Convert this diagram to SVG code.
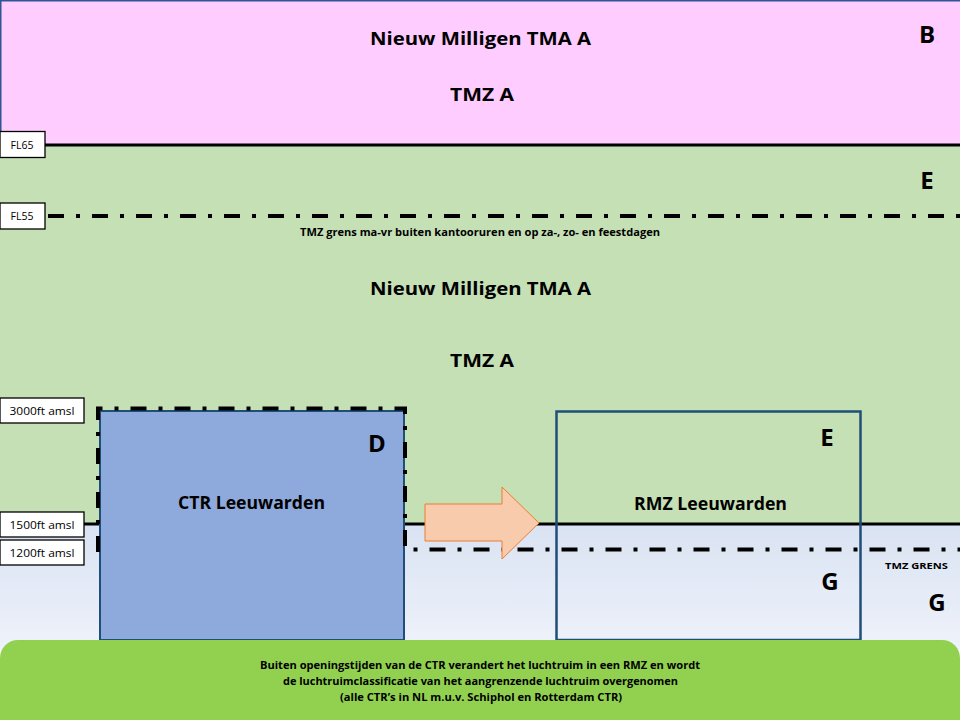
<svg xmlns="http://www.w3.org/2000/svg" width="960" height="720" viewBox="0 0 960 720">
<defs>
<linearGradient id="gLow" x1="0" y1="0" x2="0" y2="1">
<stop offset="0" stop-color="#DAE3F3"/>
<stop offset="1" stop-color="#EEF2FA"/>
</linearGradient>
</defs>
<style>
.t{font-family:"Open Sans","Liberation Sans",Arial,sans-serif;font-weight:bold;fill:#000;text-anchor:middle}
.big{font-size:18px}
.cls{font-size:24px}
.lbl{font-family:"Open Sans","Liberation Sans",Arial,sans-serif;font-size:10.5px;fill:#000;text-anchor:middle}
.tag{fill:#FFFFFF;stroke:#000;stroke-width:1.3}
.solid{stroke:#000;stroke-width:3;fill:none}
.dd{stroke:#000;stroke-width:4;fill:none;stroke-dasharray:16 12 4 12}
.zone{fill:none;stroke:#1F4E79;stroke-width:2.5}
</style>
<g id="background">
<rect x="0" y="145" width="960" height="379" fill="#C5E0B4"/>
<rect x="0" y="524" width="960" height="126" fill="url(#gLow)"/>
<rect x="0.75" y="0.75" width="962" height="144" fill="#FFCCFF" stroke="#2F5597" stroke-width="1.5"/>
</g>
<g id="boundaries">
<line class="solid" x1="45" y1="145" x2="960" y2="145"/>
<line class="dd" x1="48" y1="216" x2="960" y2="216"/>
<line class="solid" x1="84" y1="524" x2="960" y2="524"/>
</g>
<g id="ctr">
<rect x="100" y="411" width="304" height="229" fill="#8EA9DB" stroke="#1F4E79" stroke-width="2"/>
<text class="t" x="251.5" y="509" font-size="17px" textLength="147" lengthAdjust="spacingAndGlyphs">CTR Leeuwarden</text>
<text class="t cls" x="377" y="452">D</text>
</g>
<g id="tmz-boundary">
<path class="dd" d="M98,552 V408.5 H405 V549.5 H965"/>
</g>
<g id="connectors">
<path d="M425,504 H502 V487 L539,523 L502,559 V541 H425 Z" fill="#F8CBAD" stroke="#ED7D31" stroke-width="1"/>
</g>
<g id="rmz">
<rect class="zone" x="556.5" y="411.5" width="304" height="228.5"/>
<text class="t" x="710.5" y="510" font-size="17px" textLength="153" lengthAdjust="spacingAndGlyphs">RMZ Leeuwarden</text>
<text class="t cls" x="827" y="446">E</text>
<text class="t cls" x="830" y="590">G</text>
</g>
<g id="labels-top">
<text class="t big" x="480.5" y="45" textLength="221" lengthAdjust="spacingAndGlyphs">Nieuw Milligen TMA A</text>
<text class="t big" x="482" y="101" textLength="64" lengthAdjust="spacingAndGlyphs">TMZ A</text>
<text class="t cls" x="927" y="43">B</text>
<text class="t cls" x="927" y="189">E</text>
<text class="t" x="480" y="236" font-size="10px" textLength="360" lengthAdjust="spacingAndGlyphs">TMZ grens ma-vr buiten kantooruren en op za-, zo- en feestdagen</text>
<text class="t big" x="480.5" y="295" textLength="221" lengthAdjust="spacingAndGlyphs">Nieuw Milligen TMA A</text>
<text class="t big" x="482" y="367" textLength="64" lengthAdjust="spacingAndGlyphs">TMZ A</text>
<text class="t" x="916.5" y="569" font-size="9px" textLength="63" lengthAdjust="spacingAndGlyphs">TMZ GRENS</text>
<text class="t cls" x="937" y="611">G</text>
</g>
<g id="altitude-tags">
<rect class="tag" x="0" y="131.5" width="45" height="26"/>
<text class="lbl" x="22" y="148.5">FL65</text>
<rect class="tag" x="0" y="203" width="45" height="26"/>
<text class="lbl" x="22" y="220">FL55</text>
<rect class="tag" x="0" y="398" width="84" height="25"/>
<text class="lbl" x="42" y="414.5" textLength="65" lengthAdjust="spacingAndGlyphs">3000ft amsl</text>
<rect class="tag" x="0" y="512" width="84" height="25"/>
<text class="lbl" x="42" y="528.5" textLength="65" lengthAdjust="spacingAndGlyphs">1500ft amsl</text>
<rect class="tag" x="0" y="540" width="84" height="25"/>
<text class="lbl" x="42" y="556.5" textLength="65" lengthAdjust="spacingAndGlyphs">1200ft amsl</text>
</g>
<g id="note">
<rect x="0" y="640" width="960" height="100" rx="18" fill="#92D050"/>
<text class="t" x="480" y="669" font-size="10px" textLength="440" lengthAdjust="spacingAndGlyphs">Buiten openingstijden  van de CTR verandert het luchtruim in een RMZ en wordt</text>
<text class="t" x="480.5" y="685" font-size="10px" textLength="395" lengthAdjust="spacingAndGlyphs">de luchtruimclassificatie  van het aangrenzende luchtruim overgenomen</text>
<text class="t" x="481" y="701" font-size="10px" textLength="282" lengthAdjust="spacingAndGlyphs">(alle CTR’s  in NL m.u.v.  Schiphol  en Rotterdam CTR)</text>
</g>
</svg>
